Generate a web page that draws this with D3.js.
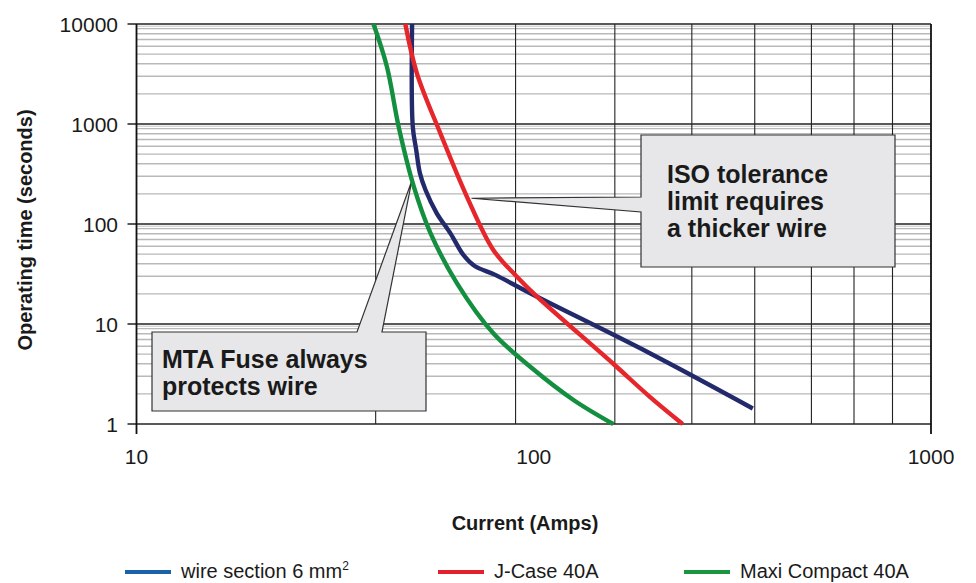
<!DOCTYPE html>
<html>
<head>
<meta charset="utf-8">
<script src="https://cdn.jsdelivr.net/npm/d3@7"></script>
<style>
  body { margin: 0; background: #fff; }
  svg { display: block; font-family: "Liberation Sans", Arial, sans-serif; }
</style>
</head>
<body>
<div id="chart"></div>
<script>
// wire section 6 mm2 (current in A, time in s)
const wireCurrent = [49.4, 49.6, 50.6, 51.7, 53.4, 57, 61.7, 66.5, 71, 80, 98, 196, 356];
const wireTime = [10000, 940, 550, 321, 219, 128, 80.7, 49, 38, 31, 20.3, 5.1, 1.43];

// J-Case 40A
const jcaseCurrent = [47.5, 50.8, 58.2, 67.9, 79.1, 90.7, 101.9, 158, 196, 237];
const jcaseTime = [10000, 3213, 807, 187, 55, 29.7, 18.8, 4.05, 1.87, 1];

// Maxi Compact 40A
const maxiCurrent = [39.5, 42.7, 45.7, 49.9, 55, 64.1, 79.1, 98, 125.9, 158.5];
const maxiTime = [10000, 3741, 940, 237, 80.7, 25.5, 8.07, 3.74, 1.74, 1];

const seriesNames = ['wire section 6 mm', 'J-Case 40A', 'Maxi Compact 40A'];
const yTickValues = [1, 10, 100, 1000, 10000];
const xTickValues = [10, 100, 1000];
// vertical grid lines as they appear in the original sheet
const xGridValues = [40, 90, 160, 250, 360, 500, 640, 800];

const width = 976, height = 583;
const svg = d3.select('#chart').append('svg')
  .attr('width', width)
  .attr('height', height);

const x = d3.scaleLog().domain([10, 1000]).range([136.5, 931]);
const y = d3.scaleLog().domain([1, 10000]).range([424, 24]);

const grid = svg.append('g');

// minor horizontal lines (2..9 in each decade)
const minor = y.ticks().filter(v => !yTickValues.includes(v));
grid.selectAll('line.minor')
  .data(minor)
  .enter()
  .append('line')
  .attr('x1', x(10)).attr('x2', x(1000))
  .attr('y1', d => y(d)).attr('y2', d => y(d))
  .attr('stroke', '#b9b9b9')
  .attr('stroke-width', 1.4);

// faint double line under each decade line
grid.selectAll('line.shadow')
  .data(yTickValues.slice(1))
  .enter()
  .append('line')
  .attr('x1', x(10)).attr('x2', x(1000))
  .attr('y1', d => y(d) + 2.2).attr('y2', d => y(d) + 2.2)
  .attr('stroke', '#c4c4c4')
  .attr('stroke-width', 1);

// vertical lines
grid.selectAll('line.vert')
  .data(xGridValues)
  .enter()
  .append('line')
  .attr('x1', d => x(d)).attr('x2', d => x(d))
  .attr('y1', y(10000)).attr('y2', y(1))
  .attr('stroke', '#222')
  .attr('stroke-width', 1.1);

// decade lines + ticks on the left
grid.selectAll('line.major')
  .data(yTickValues)
  .enter()
  .append('line')
  .attr('x1', x(10) - 9).attr('x2', x(1000))
  .attr('y1', d => y(d)).attr('y2', d => y(d))
  .attr('stroke', '#222')
  .attr('stroke-width', 1.3);

// left axis and right border, with small ticks under the x axis
grid.selectAll('line.edge')
  .data([10, 1000])
  .enter()
  .append('line')
  .attr('x1', d => x(d)).attr('x2', d => x(d))
  .attr('y1', y(10000)).attr('y2', y(1) + 10)
  .attr('stroke', '#111')
  .attr('stroke-width', 1.8);

// callouts
const callouts = svg.append('g');

const isoTip = [x(69.7), y(181)];
callouts.append('path')
  .attr('d', `M641,135 H895 V267 H641 V212 L${isoTip[0]},${isoTip[1]} L641,197 Z`)
  .attr('fill', '#e7e7e9')
  .attr('stroke', '#333')
  .attr('stroke-width', 1.2);

const mtaTip = [x(49.3), y(269)];
callouts.append('path')
  .attr('d', `M152,332 H357 L${mtaTip[0]},${mtaTip[1]} L382,332 H426 V411 H152 Z`)
  .attr('fill', '#e7e7e9')
  .attr('stroke', '#333')
  .attr('stroke-width', 1.2);

const isoLines = ['ISO tolerance', 'limit requires', 'a thicker wire'];
callouts.selectAll('text.iso')
  .data(isoLines)
  .enter()
  .append('text')
  .attr('x', 667)
  .attr('y', (d, i) => 183 + i * 27)
  .attr('font-size', 25)
  .attr('font-weight', 'bold')
  .attr('fill', '#1a1a1a')
  .text(d => d);

const mtaLines = ['MTA Fuse always', 'protects wire'];
callouts.selectAll('text.mta')
  .data(mtaLines)
  .enter()
  .append('text')
  .attr('x', 162)
  .attr('y', (d, i) => 368 + i * 27)
  .attr('font-size', 25)
  .attr('font-weight', 'bold')
  .attr('fill', '#1a1a1a')
  .text(d => d);

// curves
const series = [
  { current: wireCurrent, time: wireTime, color: '#232a6c' },
  { current: jcaseCurrent, time: jcaseTime, color: '#e5262a' },
  { current: maxiCurrent, time: maxiTime, color: '#138f3f' }
];

const line = d3.line()
  .x(d => x(d[0]))
  .y(d => y(d[1]))
  .curve(d3.curveCatmullRom.alpha(0.5));

svg.append('g').selectAll('path')
  .data(series)
  .enter()
  .append('path')
  .attr('d', s => line(s.current.map((c, i) => [c, s.time[i]])))
  .attr('fill', 'none')
  .attr('stroke', s => s.color)
  .attr('stroke-width', 4.4);

// tick labels
svg.append('g').selectAll('text')
  .data(yTickValues)
  .enter()
  .append('text')
  .attr('x', 118)
  .attr('y', d => y(d))
  .attr('dy', '0.36em')
  .attr('text-anchor', 'end')
  .attr('font-size', 21)
  .attr('fill', '#1a1a1a')
  .text(d => d);

svg.append('g').selectAll('text')
  .data(xTickValues)
  .enter()
  .append('text')
  .attr('x', d => x(d))
  .attr('y', 464)
  .attr('text-anchor', 'middle')
  .attr('font-size', 21)
  .attr('fill', '#1a1a1a')
  .text(d => d);

// axis titles
svg.append('text')
  .attr('transform', 'translate(32,230) rotate(-90)')
  .attr('text-anchor', 'middle')
  .attr('font-size', 20)
  .attr('font-weight', 'bold')
  .attr('fill', '#1a1a1a')
  .text('Operating time (seconds)');

svg.append('text')
  .attr('x', 525)
  .attr('y', 530)
  .attr('text-anchor', 'middle')
  .attr('font-size', 20)
  .attr('font-weight', 'bold')
  .attr('fill', '#1a1a1a')
  .text('Current (Amps)');

// legend
const legendColors = ['#1b63a8', '#e3202b', '#1b9640'];
const legendX = [125, 438, 684];
const legend = svg.append('g').selectAll('g')
  .data(seriesNames)
  .enter()
  .append('g')
  .attr('transform', (d, i) => `translate(${legendX[i]},572)`);

legend.append('line')
  .attr('x1', 0).attr('x2', 46)
  .attr('stroke', (d, i) => legendColors[i])
  .attr('stroke-width', 4);

const labels = legend.append('text')
  .attr('x', 56)
  .attr('y', 6)
  .attr('font-size', 20)
  .attr('fill', '#1a1a1a')
  .text(d => d);

labels.filter((d, i) => i === 0)
  .append('tspan')
  .attr('dy', -8)
  .attr('font-size', 12)
  .text('2');
</script>
</body>
</html>
